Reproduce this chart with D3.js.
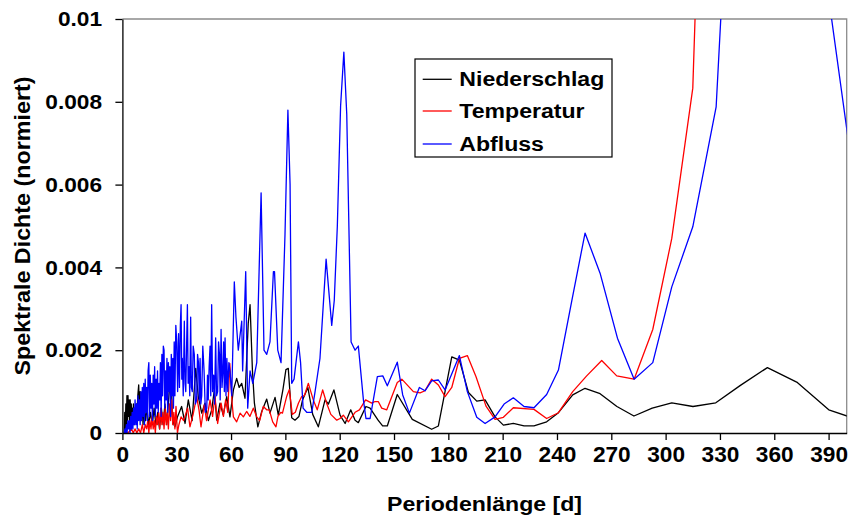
<!DOCTYPE html>
<html>
<head>
<meta charset="utf-8">
<script src="https://cdn.jsdelivr.net/npm/d3@7"></script>
<style>
  body { margin: 0; background: #fff; }
  text { font-family: "Liberation Sans", Arial, sans-serif; font-weight: bold; fill: #000; }
</style>
</head>
<body>
<svg id="chart" width="853" height="524"></svg>
<script>
// [Periodenlänge in Tagen, spektrale Dichte]
const niederschlag = [
  [1.0,0],[1.3,.0005],[1.6,.0001],[1.9,.0007],[2.2,.0002],[2.5,.0009],[2.8,.0003],[3.1,.0009],[3.4,.0004],[3.7,.0008],
  [4.0,.0002],[4.3,.0008],[4.6,.0003],[4.9,.0007],[5.2,.0002],[5.5,.0006],[5.8,.0003],[6.1,.0007],[6.4,.0002],[6.8,.0006],
  [7.2,.0003],[7.6,.0007],[8.0,.0004],[8.5,.0009],[9.0,.00116],[9.4,.0005],[9.8,.0010],[10.3,.0003],[10.8,.0008],[11.4,.0002],
  [12.0,.0007],[12.8,.0003],[13.6,.0006],[14.5,.0002],[15.5,.0005],[16.5,.0002],[17.5,.0006],[18.5,.0002],[19.5,.0005],[20.5,.0001],
  [21.5,.0006],[22.5,.0002],[23.5,.0007],[24.5,.0002],[25.5,.0008],[26.8,.00152],[27.6,.0004],[28.5,.0002],[29.0,.00015],[30.5,.0004],
  [32.7,.00064],[34.6,.00023],[36.4,.0008],[38.5,.0003],[40.5,.00156],[41.9,.00088],[43.8,.00048],[45.6,.00072],[47.5,.0003],[49.3,.00056],
  [50.8,.00104],[52.1,.00031],[53.9,.00072],[55.7,.00043],[57.6,.00088],[59.4,.00039],[61.3,.00104],[63.1,.00132],[64.5,.0011],[65.9,.0012],
  [67.7,.00084],[69.5,.00265],[70.5,.0031],[71.8,.00152],[72.9,.00072],[74.8,.00015],[76.8,.0005],[79.7,.00082],[81.5,.00048],[84.3,.00086],
  [86.1,.00043],[88.7,.00106],[90.3,.00153],[91.6,.00156],[93.5,.00037],[95.3,.00031],[97.5,.0004],[99.5,.0008],[102.4,.0011],[105.1,.00045],
  [108.2,.00015],[111.9,.0008],[113.8,.0007],[116.8,.00104],[120.2,.00043],[123.0,.00023],[126.1,.00056],[128.5,.00031],[130.3,.00025],[134.5,.00064],
  [136.8,.0006],[138.6,.00048],[141.2,.00031],[143.7,.00017],[146.3,.00017],[151.8,.00093],[160.1,.00033],[170.8,.00009],[174.5,.00017],[181.9,.00184],
  [186.1,.00176],[191.1,.00098],[195.7,.00077],[200.3,.0008],[205.8,.00039],[210.4,.00019],[215.9,.00023],[221.8,.00017],[227.3,.00017],[234.3,.00027],
  [240.8,.00049],[248.7,.00092],[255.5,.00108],[263.8,.00095],[273.1,.00064],[282.5,.00041],[292.6,.0006],[303.4,.00073],[315.1,.00064],[327.7,.00073],
  [341.3,.00115],[356.2,.00158],[372.4,.00123],[390.1,.00056],[409.6,.00027]
];

const temperatur = [
  [1.0,0],[3.0,0],[5.0,.0001],[6.0,0],[7.0,.0001],[8.0,0],[9.0,.0001],[10.0,0],[11.0,.0002],[11.8,0],
  [12.6,.0002],[13.4,.0001],[14.0,.0003],[14.6,0],[15.2,.0003],[15.8,.0001],[16.4,.0004],[17.0,.0001],[17.6,.0003],[18.2,0],
  [18.8,.0004],[19.4,.0002],[20.0,.0005],[20.6,.0001],[21.2,.0006],[21.8,.0002],[22.4,.0005],[23.0,.0001],[23.6,.0006],[24.2,.0002],
  [24.8,.0005],[25.4,.0001],[26.0,.0007],[26.6,.0003],[27.2,.0008],[27.8,.0002],[28.4,.0005],[29.0,.0001],[29.6,.00064],[30.4,0],
  [31.2,.0002],[32.4,.00039],[33.8,.0003],[36.0,.0006],[37.3,.00015],[39.2,.00048],[41.0,.00088],[42.3,.00056],[43.4,.00015],[45.2,.00068],
  [46.5,.0003],[48.4,.0008],[49.8,.0004],[51.1,.00088],[52.6,.00023],[54.5,.00072],[55.8,.0004],[57.0,.0008],[58.2,.0005],[59.3,.00168],
  [60.6,.00072],[61.3,.00039],[63.1,.00027],[65.0,.00048],[66.8,.00039],[68.6,.00052],[70.4,.0004],[72.3,.0006],[74.2,.00039],[75.8,.0003],
  [77.8,.00064],[79.7,.00056],[81.1,.00056],[83.0,.00027],[84.8,.00015],[85.9,.0004],[87.5,.0005],[88.4,.00048],[90.7,.00088],[92.2,.00105],
  [93.8,.00045],[95.5,.0005],[97.2,.00072],[99.0,.00088],[100.5,.0009],[102.7,.0012],[105.4,.0008],[107.6,.00056],[110.6,.00104],[112.8,.00072],
  [115.1,.00045],[118.4,.00031],[120.2,.00035],[122.0,.00043],[124.8,.00027],[128.5,.0005],[130.9,.00056],[134.3,.0008],[137.7,.00072],[139.5,.00076],
  [141.3,.00076],[143.2,.0006],[146.0,.00056],[151.8,.00122],[154.3,.0013],[160.7,.001],[164.4,.00097],[167.1,.00102],[170.8,.0013],[174.5,.00116],
  [178.2,.00088],[181.9,.0011],[186.1,.0018],[190.5,.00187],[195.3,.00136],[200.8,.00065],[205.8,.00033],[210.4,.00038],[215.9,.00061],[227.3,.00057],
  [234.3,.00035],[240.8,.00049],[248.7,.001],[256.4,.00138],[264.7,.00175],[273.0,.00138],[282.6,.0013],[292.9,.0025],[303.4,.0047],[315.0,.00833],
  [327.7,.0254],[341.3,.05],[356.2,.08],[372.4,.07],[390.1,.05],[409.6,.03]
];

const abfluss = [
  [1.0,0],[1.4,.0001],[1.8,0],[2.2,.0002],[2.6,0],[3.0,.0003],[3.4,.0001],[3.8,.0003],[4.2,0],[4.6,.0004],
  [5.0,.0001],[5.4,.0005],[5.8,.0001],[6.2,.0006],[6.6,.0002],[7.0,.0008],[7.4,.0002],[7.8,.0007],[8.2,.0001],[8.6,.0009],
  [9.0,.0003],[9.4,.0008],[9.8,.0002],[10.2,.0010],[10.6,.0003],[11.0,.0011],[11.4,.0004],[11.8,.0012],[12.2,.0002],[12.6,.0013],
  [13.0,.0005],[13.4,.0011],[13.8,.0003],[14.2,.0015],[14.6,.0017],[15.0,.0004],[15.4,.0014],[15.8,.0006],[16.2,.0012],[16.6,.0003],
  [17.0,.0014],[17.4,.0007],[17.8,.0016],[18.2,.0004],[18.6,.0013],[19.0,.0006],[19.4,.0015],[19.8,.0005],[20.2,.0012],[20.6,.0008],
  [21.0,.0017],[21.4,.0004],[21.8,.0019],[22.2,.0009],[22.6,.0021],[23.0,.0020],[23.4,.0006],[23.8,.0015],[24.2,.0008],[24.6,.0018],
  [25.0,.0005],[25.4,.0017],[25.8,.0010],[26.2,.0016],[26.6,.0004],[27.0,.0019],[27.4,.0009],[27.8,.0018],[28.2,.0006],[28.6,.0022],
  [29.0,.0009],[29.5,.0026],[30.0,.0022],[30.5,.0010],[31.0,.0024],[31.5,.0011],[32.0,.0026],[32.4,.0031],[32.8,.0013],[33.1,.0018],
  [33.6,.0009],[34.2,.0027],[34.6,.0012],[35.0,.0010],[35.5,.0022],[35.9,.0031],[36.3,.0012],[36.8,.0016],[37.2,.0009],[37.7,.0028],
  [38.1,.0011],[38.6,.0010],[39.1,.0021],[39.7,.0019],[40.3,.0007],[41.0,.0008],[41.5,.0019],[42.0,.0017],[42.5,.0008],[42.9,.0018],
  [43.3,.0007],[43.8,.0009],[44.4,.0021],[45.1,.0015],[45.8,.0005],[46.6,.0006],[47.0,.0014],[47.4,.0008],[47.9,.0016],[48.4,.0021],
  [48.8,.0009],[49.3,.0031],[49.8,.0010],[50.4,.0014],[50.9,.0007],[51.5,.0023],[52.0,.0009],[52.6,.0010],[53.1,.0022],[53.6,.0019],
  [54.0,.0008],[54.5,.0025],[55.0,.0011],[55.4,.0014],[55.9,.0022],[56.3,.0010],[56.7,.0023],[57.2,.0009],[57.7,.0018],[58.2,.0010],
  [58.8,.0017],[59.4,.0015],[60.4,.0009],[61.8,.00365],[62.7,.0028],[64.0,.0020],[65.9,.0027],[66.4,.0015],[68.1,.0039],[69.2,.0006],
  [70.5,.0015],[72.0,.0012],[74.2,.0017],[76.6,.0058],[78.2,.0020],[79.7,.0019],[81.5,.0022],[83.4,.0039],[84.0,.0039],[85.8,.0020],
  [87.6,.0017],[89.8,.0048],[91.4,.0078],[92.6,.0060],[93.5,.0012],[94.8,.0013],[97.2,.0022],[98.4,.0017],[99.8,.0006],[101.8,.0005],
  [104.6,.0005],[106.4,.0010],[109.1,.0018],[112.5,.0042],[115.6,.0026],[117.0,.0032],[118.7,.0050],[120.5,.0079],[122.3,.0092],[123.9,.0077],
  [126.3,.0022],[128.5,.0020],[130.3,.0021],[133.1,.0008],[134.5,.00035],[136.8,.00035],[140.8,.00136],[143.8,.00138],[146.3,.00114],[151.8,.00171],
  [154.8,.00092],[158.5,.00048],[164.0,.0011],[167.1,.00102],[170.8,.00126],[174.5,.00128],[178.2,.00104],[186.1,.00187],[190.5,.0010],[195.7,.00038],
  [200.3,.00023],[205.8,.00039],[210.8,.0007],[215.9,.00085],[221.8,.00064],[227.3,.00061],[234.3,.00093],[240.8,.00152],[248.2,.0032],[255.5,.00483],
  [263.8,.00386],[273.4,.00229],[282.6,.0013],[292.9,.0017],[303.4,.00353],[315.0,.00498],[327.9,.00788],[341.3,.019],[356.2,.026],[372.4,.019],
  [390.1,.0105],[409.6,.0043]
];

const seriesNames = ["Niederschlag", "Temperatur", "Abfluss"];
const seriesColors = ["#000000", "#ff0000", "#0000ff"];
const xTicks = [0, 30, 60, 90, 120, 150, 180, 210, 240, 270, 300, 330, 360, 390];
const yTicks = [0, 0.002, 0.004, 0.006, 0.008, 0.01];
const yTickLabels = ["0", "0.002", "0.004", "0.006", "0.008", "0.01"];

const svg = d3.select("#chart");
const plotLeft = 122.4, plotRight = 846.7, plotTop = 19, plotBottom = 433;
const sx = 1.08; // text is drawn slightly wider than regular Arial

const x = d3.scaleLinear().domain([0, 400]).range([plotLeft, plotRight]);
const y = d3.scaleLinear().domain([0, 0.01]).range([plotBottom, plotTop]);

svg.append("clipPath").attr("id", "plot")
  .append("rect").attr("x", plotLeft).attr("y", plotTop)
  .attr("width", plotRight - plotLeft).attr("height", plotBottom - plotTop);

// plot frame (top / right in grey)
svg.append("path")
  .attr("d", `M${plotLeft},${plotTop}H${plotRight}V${plotBottom}`)
  .attr("fill", "none").attr("stroke", "#8c8c8c").attr("stroke-width", 1.3);

// series
const line = d3.line().x(d => x(d[0])).y(d => y(d[1]));
[niederschlag, temperatur, abfluss].forEach((data, i) => {
  svg.append("path")
    .datum(data)
    .attr("clip-path", "url(#plot)")
    .attr("fill", "none")
    .attr("stroke", seriesColors[i])
    .attr("stroke-width", 1.3)
    .attr("stroke-linejoin", "round")
    .attr("d", line);
});

// axes
const xAxis = svg.append("g")
  .attr("transform", `translate(0,${plotBottom})`)
  .call(d3.axisBottom(x).tickValues(xTicks).tickSize(7).tickPadding(6).tickSizeOuter(0));
const yAxis = svg.append("g")
  .attr("transform", `translate(${plotLeft},0)`)
  .call(d3.axisLeft(y).tickValues(yTicks).tickSize(7).tickSizeOuter(0)
    .tickFormat((d, i) => yTickLabels[i]));

[xAxis, yAxis].forEach(g => {
  g.select(".domain").attr("stroke", "#000").attr("stroke-width", 1.3);
  g.selectAll(".tick line").attr("stroke", "#000").attr("stroke-width", 1.3);
  g.selectAll(".tick text").attr("font-size", 21)
    .attr("font-family", '"Liberation Sans", Arial, sans-serif').attr("font-weight", "bold");
});
xAxis.selectAll(".tick text").attr("font-size", 22).attr("transform", `scale(1.03,1)`);
yAxis.selectAll(".tick text").attr("x", -20.4 / sx).attr("transform", `scale(${sx},1)`);

// axis titles
svg.append("text")
  .attr("transform", `translate(${(plotLeft + plotRight) / 2},511) scale(1.1,1)`)
  .attr("text-anchor", "middle").attr("font-size", 21)
  .text("Periodenlänge [d]");
svg.append("text")
  .attr("transform", `translate(30,${(plotTop + plotBottom) / 2}) rotate(-90) scale(1.06,1)`)
  .attr("text-anchor", "middle").attr("font-size", 22)
  .text("Spektrale Dichte (normiert)");

// legend
const legend = svg.append("g").attr("transform", "translate(415,59)");
legend.append("rect").attr("width", 197).attr("height", 98)
  .attr("fill", "#fff").attr("stroke", "#000").attr("stroke-width", 1.2);
const legendRows = [20.3, 52, 85];
seriesNames.forEach((name, i) => {
  legend.append("line")
    .attr("x1", 7.7).attr("x2", 36.7)
    .attr("y1", legendRows[i]).attr("y2", legendRows[i])
    .attr("stroke", seriesColors[i]).attr("stroke-width", 1.3);
  legend.append("text")
    .attr("transform", `translate(44.3,${legendRows[i] + 7}) scale(1.1,1)`)
    .attr("font-size", 21)
    .text(name);
});
</script>
</body>
</html>
